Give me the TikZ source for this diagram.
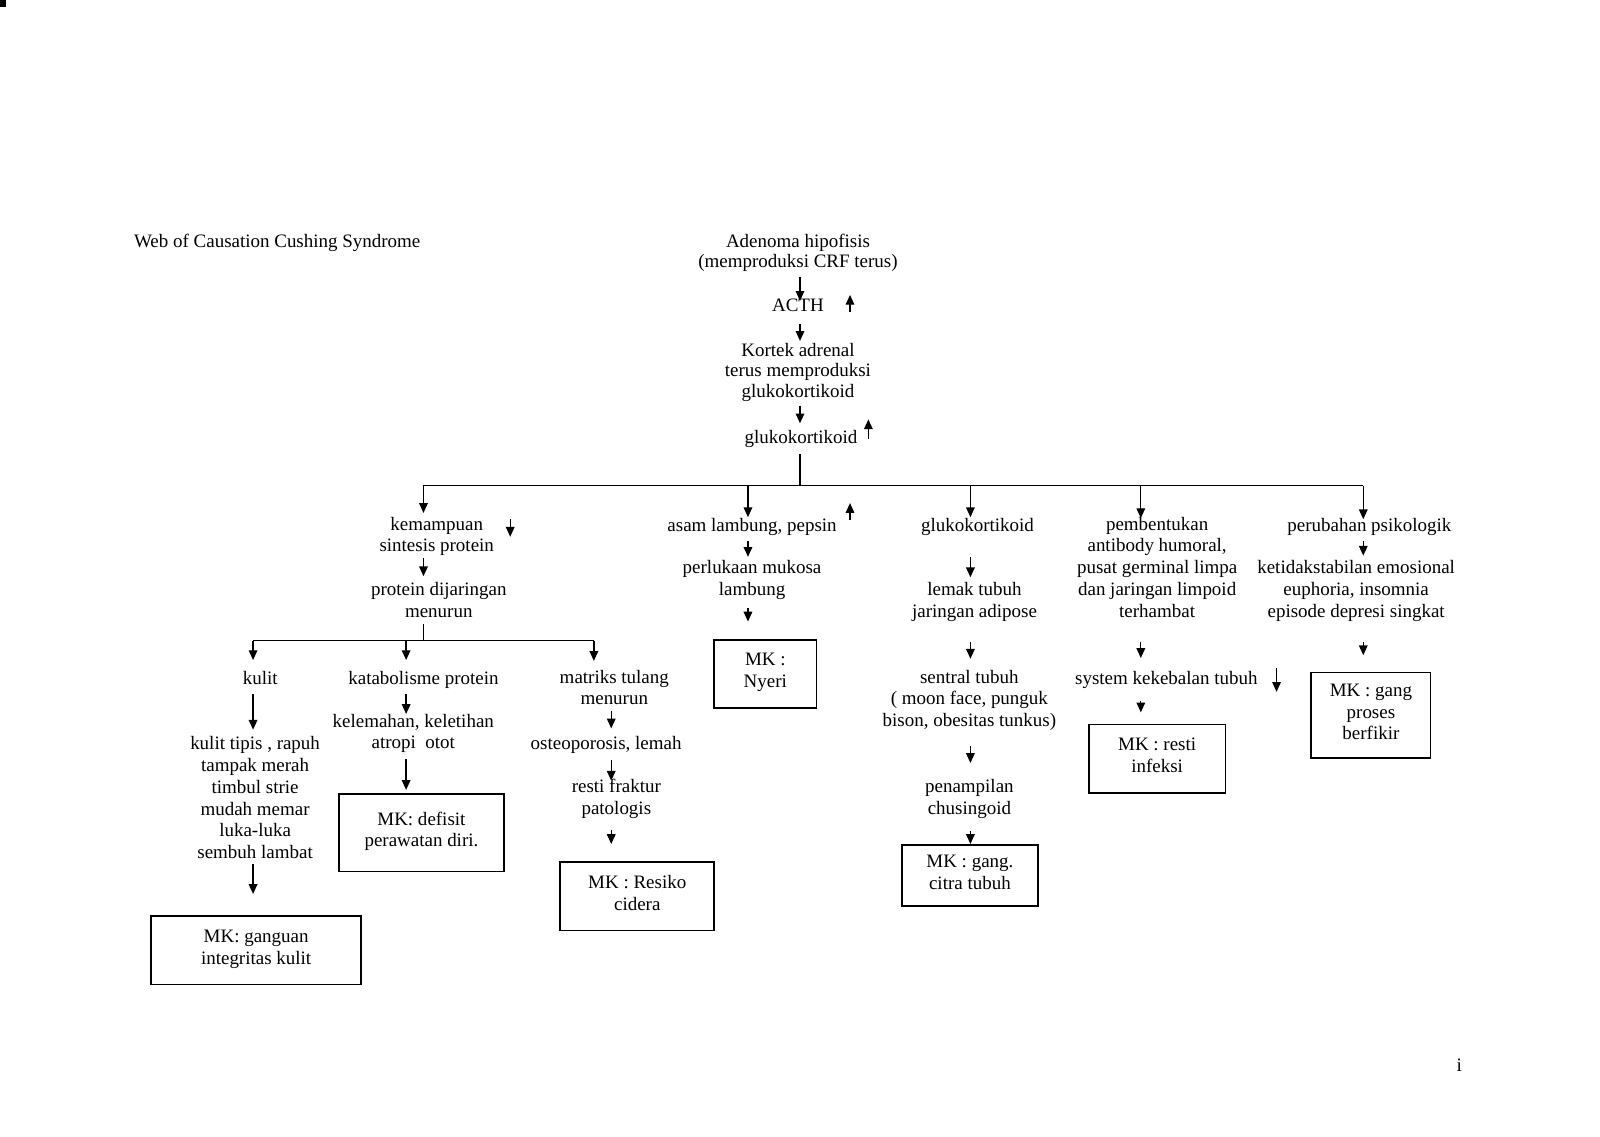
\documentclass[tikz,border=0pt]{standalone}
\usepackage{fontspec}
\setmainfont{Liberation Serif}
\usetikzlibrary{arrows.meta}
\begin{document}
\begin{tikzpicture}[x={(0.5pt,0)}, y={(0,-0.5pt)},
  every node/.style={font=\fontsize{9.3pt}{10.65pt}\selectfont, inner sep=0pt, align=center, yshift=-1.2pt,
    execute at begin node=\strut, execute at end node=\strut},
  tight/.style={font=\fontsize{9.3pt}{10.2pt}\selectfont},
  box/.style 2 args={draw, line width=0.8pt, minimum width={#1*0.5pt}, minimum height={#2*0.5pt}},
  arr/.style={line width=0.65pt, -{Triangle[width=4.2pt,length=4.8pt]}},
  ln/.style={line width=0.65pt},
  sh/.style 2 args={shorten <={#1*0.5pt}, shorten >={#2*0.5pt}}]
\useasboundingbox (0,0) rectangle (1568,1114);
\fill (0,0) rectangle (6,7);

% columns and bars (coordinates also receive the common shift of 2.4 units)
\coordinate (cT) at (784,0);
\coordinate (b1) at (415,0);
\coordinate (b2) at (733,0);
\coordinate (b3) at (951,0);
\coordinate (b4) at (1118,0);
\coordinate (b5) at (1336,0);
\coordinate (k1) at (248,0);
\coordinate (k2) at (398,0);
\coordinate (k3) at (582,0);
\coordinate (k3b) at (599,0);
\coordinate (bar) at (0,473.6);
\coordinate (sbar) at (0,625.6);

% text nodes
\node[anchor=west] (title) at (131,236) {Web of Causation Cushing Syndrome};
\node[tight] (aden) at (782,246.5) {Adenoma hipofisis\\(memproduksi CRF terus)};
\node (acth) at (782,299) {ACTH};
\node[tight] (kort) at (782,363.5) {Kortek adrenal\\terus memproduksi\\glukokortikoid};
\node (gk1) at (785,428) {glukokortikoid};

\node (kem) at (428,524.5) {kemampuan\\sintesis protein};
\node (prot) at (430,588.5) {protein dijaringan\\menurun};
\node (kulit) at (255,664) {kulit};
\node (kat) at (415,664) {katabolisme protein};
\node (mat) at (602,674.5) {matriks tulang\\menurun};
\node (kt) at (250,782.5) {kulit tipis , rapuh\\tampak merah\\timbul strie\\mudah memar\\luka-luka\\sembuh lambat};
\node (kel) at (405,717.5) {kelemahan, keletihan\\atropi\ \ otot};
\node (ost) at (594,728) {osteoporosis, lemah};
\node (res) at (604,782) {resti fraktur\\patologis};

\node (asam) at (737,514) {asam lambung, pepsin};
\node (perl) at (737,567.5) {perlukaan mukosa\\lambung};

\node (gk2) at (958,514) {glukokortikoid};
\node (lem) at (955,588.5) {lemak tubuh\\jaringan adipose};
\node (sen) at (950,685) {sentral tubuh\\( moon face, punguk\\bison, obesitas tunkus)};
\node (pen) at (950,781.5) {penampilan\\chusingoid};

\node (pemb) at (1134,556.5) {pembentukan\\antibody humoral,\\pusat germinal limpa\\dan jaringan limpoid\\terhambat};
\node (sys) at (1143,664) {system kekebalan tubuh};

\node (perub) at (1342,514) {perubahan psikologik};
\node (ket) at (1329,578) {ketidakstabilan emosional\\euphoria, insomnia\\episode depresi singkat};

% boxes (positions compensate the common shift)
\node[box={206}{67}] (mk1) at (251,929) {MK: ganguan\\integritas kulit};
\node[box={162}{76}] (mk2) at (413,813.5) {MK: defisit\\perawatan diri.};
\node[box={151}{67}] (mk3) at (624.5,876) {MK : Resiko\\cidera};
\node[box={100}{67}] (mk4) at (750,658) {MK :\\Nyeri};
\node[box={133}{60}] (mk5) at (950.5,855.5) {MK : gang.\\citra tubuh};
\node[box={134}{67}] (mk6) at (1134,741) {MK : resti\\infeksi};
\node[box={117}{84}] (mk7) at (1343.5,698.5) {MK : gang\\proses\\berfikir};

\node (pg) at (1430,1043) {i};

% top chain
\draw[arr, sh={2.5}{-4.5}] (aden.south -| cT) -- (acth.north -| cT);
\draw[arr, sh={5.5}{1.5}] (acth.south -| cT) -- (kort.north -| cT);
\draw[arr, sh={1.5}{4.5}] (kort.south -| cT) -- (gk1.north -| cT);
\draw[ln, shorten <=1.75pt] (gk1.south -| cT) -- (cT |- bar);
\draw[ln] (b1 |- bar) -- (b5 |- bar);

% branch arrows from bar
\draw[arr, sh={0}{3.5}] (b1 |- bar) -- (kem.north -| b1);
\draw[arr, sh={0}{-1.5}] (b2 |- bar) -- (asam.north -| b2);
\draw[arr, sh={0}{-1.5}] (b3 |- bar) -- (gk2.north -| b3);
\draw[arr, sh={0}{-1.5}] (b4 |- bar) -- (pemb.north -| b4);
\draw[arr, sh={0}{-3.5}] (b5 |- bar) -- (perub.north -| b5);

% branch 1
\draw[arr, sh={-0.5}{5.5}] (kem.south -| b1) -- (prot.north -| b1);
\draw[ln] (prot.south -| b1) -- (b1 |- sbar);
\draw[ln] (k1 |- sbar) -- (k3 |- sbar);
\draw[arr, sh={0}{8.5}] (k1 |- sbar) -- (kulit.north -| k1);
\draw[arr, sh={0}{8.5}] (k2 |- sbar) -- (kat.north -| k2);
\draw[arr, sh={0}{8.5}] (k3 |- sbar) -- (mat.north -| k3);
\draw[arr, sh={2.5}{6.5}] (kulit.south -| k1) -- (kt.north -| k1);
\draw[arr, sh={-1.5}{21}] (kt.south -| k1) -- (mk1.north -| k1);
\draw[arr, sh={2.5}{-0.5}] (kat.south -| k2) -- (kel.north -| k2);
\draw[arr, sh={3.5}{3}] (kel.south -| k2) -- (mk2.north -| k2);
\draw[arr, sh={-0.5}{5.5}] (mat.south -| k3b) -- (ost.north -| k3b);
\draw[arr, sh={3.5}{-1.5}] (ost.south -| k3b) -- (res.north -| k3b);
\draw[arr, sh={8.5}{17}] (res.south -| k3b) -- (mk3.north -| k3b);

% branch 2
\draw[arr, sh={2.5}{3.5}] (asam.south -| b2) -- (perl.north -| b2);
\draw[arr, sh={5.5}{17}] (perl.south -| b2) -- (mk4.north -| b2);

% branch 3
\draw[arr, sh={18.5}{4.5}] (gk2.south -| b3) -- (lem.north -| b3);
\draw[arr, sh={17.5}{10.5}] (lem.south -| b3) -- (sen.north -| b3);
\draw[arr, sh={12.5}{15.5}] (sen.south -| b3) -- (pen.north -| b3);
\draw[arr, sh={9.5}{0}] (pen.south -| b3) -- (mk5.north -| b3);

% branch 4
\draw[arr, sh={17.5}{10.5}] (pemb.south -| b4) -- (sys.north -| b4);
\draw[arr, sh={9.5}{11}] (sys.south -| b4) -- (mk6.north -| b4);

% branch 5
\draw[arr, sh={2.5}{4.5}] (perub.south -| b5) -- (ket.north -| b5);
\draw[arr, sh={17.5}{16}] (ket.south -| b5) -- (mk7.north -| b5);

% increase / decrease indicators
\coordinate (i1a) at (833,303.6); \coordinate (i1b) at (833,286.6);
\coordinate (i2a) at (851,427.6); \coordinate (i2b) at (851,408.6);
\coordinate (i3a) at (833,507.6); \coordinate (i3b) at (833,490.6);
\coordinate (i4a) at (500,506.6); \coordinate (i4b) at (500,523.6);
\coordinate (i5a) at (1251,652.6); \coordinate (i5b) at (1251,675.6);
\draw[arr] (i1a) -- (i1b);
\draw[arr] (i2a) -- (i2b);
\draw[arr] (i3a) -- (i3b);
\draw[arr] (i4a) -- (i4b);
\draw[arr] (i5a) -- (i5b);
\end{tikzpicture}
\end{document}
